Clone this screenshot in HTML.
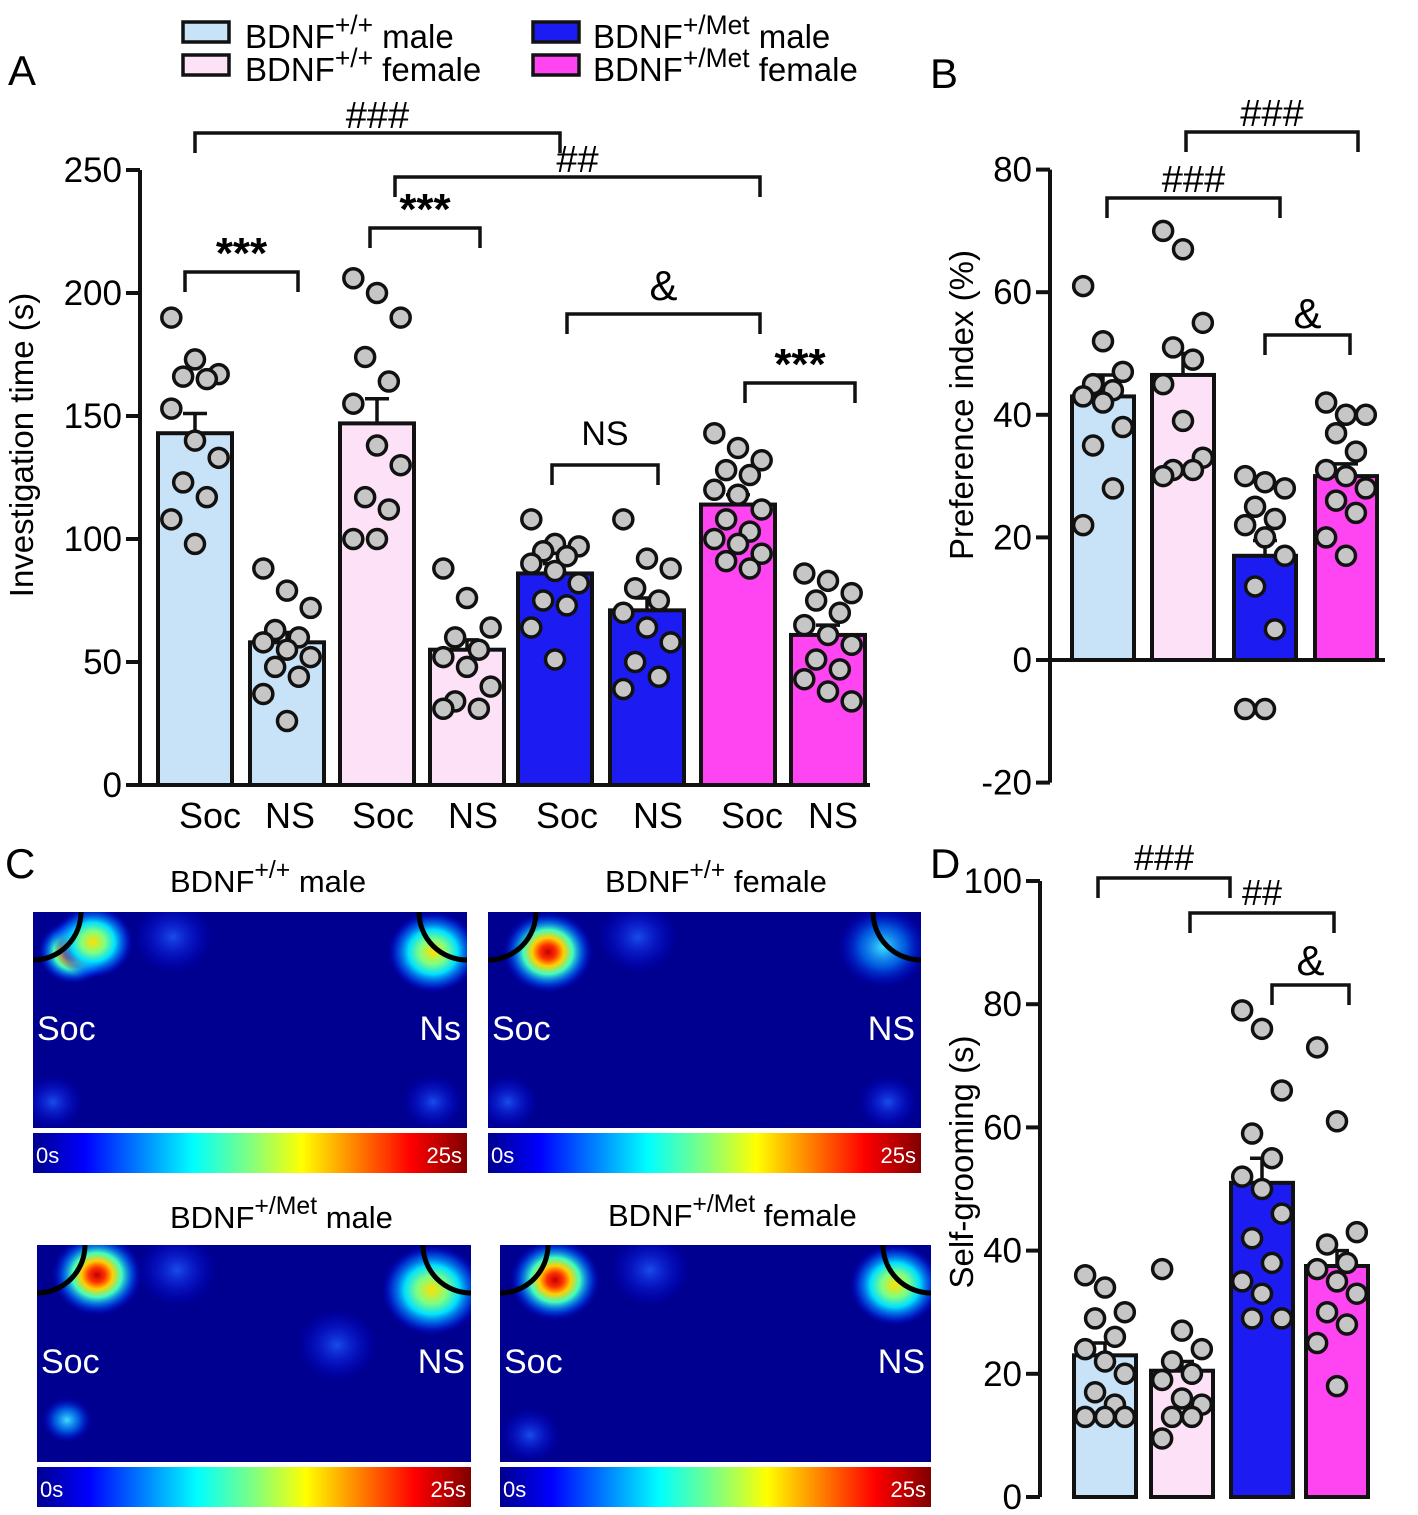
<!DOCTYPE html>
<html><head><meta charset="utf-8"><style>
body{margin:0;background:#fff}
svg{display:block;font-family:"Liberation Sans",Arial,sans-serif}
</style></head><body>
<svg id="fig" width="1418" height="1515" viewBox="0 0 1418 1515">
<defs>
<linearGradient id="cbar" x1="0" x2="1" y1="0" y2="0">
<stop offset="0" stop-color="#00008f"/><stop offset="0.12" stop-color="#0000ff"/><stop offset="0.37" stop-color="#00ffff"/><stop offset="0.5" stop-color="#80ff80"/><stop offset="0.62" stop-color="#ffff00"/><stop offset="0.87" stop-color="#ff0000"/><stop offset="1" stop-color="#800000"/>
</linearGradient>
<radialGradient id="hot"><stop offset="0" stop-color="#c00000"/><stop offset="0.18" stop-color="#ff3000"/><stop offset="0.35" stop-color="#ffd000"/><stop offset="0.55" stop-color="#40ffc0"/><stop offset="0.75" stop-color="#0080ff" stop-opacity="0.7"/><stop offset="1" stop-color="#0000ff" stop-opacity="0"/></radialGradient>
<radialGradient id="warm"><stop offset="0" stop-color="#ffe000"/><stop offset="0.3" stop-color="#80ff80"/><stop offset="0.55" stop-color="#00e0ff"/><stop offset="0.8" stop-color="#0060ff" stop-opacity="0.6"/><stop offset="1" stop-color="#0000ff" stop-opacity="0"/></radialGradient>
<radialGradient id="cool"><stop offset="0" stop-color="#40e0ff"/><stop offset="0.5" stop-color="#0080ff" stop-opacity="0.7"/><stop offset="1" stop-color="#0000ff" stop-opacity="0"/></radialGradient>
<radialGradient id="faint"><stop offset="0" stop-color="#2060ff" stop-opacity="0.8"/><stop offset="1" stop-color="#0000ff" stop-opacity="0"/></radialGradient>
<clipPath id="c1"><rect x="33" y="912" width="434" height="216"/></clipPath>
<clipPath id="c2"><rect x="488" y="912" width="433" height="216"/></clipPath>
<clipPath id="c3"><rect x="37" y="1245" width="434" height="217"/></clipPath>
<clipPath id="c4"><rect x="500" y="1245" width="431" height="217"/></clipPath>
</defs>
<g id="root"></g>
</svg>
<script>
// ---- data ----
const catA = ["Soc","NS","Soc","NS","Soc","NS","Soc","NS"];
const meanA = [143,58,147,55,86,71,114,61];
const semA = [8,4,10,4,4,5,4,4];
const ptsA = [
 [190,173,167,166,165,153,140,133,123,117,108,98],
 [88,79,72,63,60,58,55,52,48,44,37,26],
 [206,200,190,174,164,155,138,130,117,112,100,100],
 [88,76,64,60,55,52,48,40,34,31,31],
 [108,98,97,95,93,90,87,82,75,73,64,51],
 [108,92,88,80,75,70,64,58,50,44,39],
 [143,137,132,128,126,120,118,112,108,103,100,98,94,91,88],
 [86,83,78,75,70,65,61,57,51,47,43,38,34]
];
const ticksA = [0,50,100,150,200,250];
const meanB = [43,46.5,17,30];
const semB = [3.5,3.5,2.5,2];
const ptsB = [
 [61,52,47,45,44,43,42,38,35,28,22],
 [70,67,55,51,49,45,39,33,31,31,30],
 [30,29,28,25,23,22,20,17,12,5,-8,-8],
 [42,40,40,37,34,31,30,28,26,24,20,17]
];
const ticksB = [-20,0,20,40,60,80];
const meanD = [23,20.5,51,37.5];
const semD = [2,1.5,4,2.5];
const ptsD = [
 [36,34,30,29,26,24,22,20,17,15,13,13,13],
 [37,27,24,22,20,19,16,15,13,13,9.5],
 [79,76,66,59,55,52,50,46,42,38,35,33,29,29],
 [73,61,43,41,38,37,35,33,30,28,25,18]
];
const ticksD = [0,20,40,60,80,100];

const NS="http://www.w3.org/2000/svg";
const root=document.getElementById('root');
function mk(tag,attrs,parent){const e=document.createElementNS(NS,tag);for(const k in attrs)e.setAttribute(k,attrs[k]);(parent||root).appendChild(e);return e;}
const fills4=["#c8e2f8","#fde2f7","#1c1cf2","#ff45f2"];
const fillsA=[fills4[0],fills4[0],fills4[1],fills4[1],fills4[2],fills4[2],fills4[3],fills4[3]];

function panel(opt){
 const g=mk('g',{});
 
 
 const y=v=>opt.y0-(v-opt.vmin)*opt.scale;
 opt.means.forEach((m,i)=>{
  const cx=opt.cx[i];
  const b=mk('rect',{x:cx-opt.bw/2,y:Math.min(y(m),y(0)),width:opt.bw,height:Math.abs(y(0)-y(m)),fill:opt.fills[i],stroke:'#111','stroke-width':4},g);
  
  
  const e=opt.means[i]+opt.sems[i];
  mk('line',{x1:cx,x2:cx,y1:y(m),y2:y(e),stroke:'#111','stroke-width':3.5},g);
  mk('line',{x1:cx-12,x2:cx+12,y1:y(e),y2:y(e),stroke:'#111','stroke-width':3.5},g);
  const pts=opt.pts[i];
  pts.forEach((v,j)=>{
   const off=((j*37)%5-2)*opt.bw*0.16;
   const d=mk('circle',{cx:cx+off,cy:y(v),r:9.5,fill:'#c6c6c6',stroke:'#111','stroke-width':3.5},g);
   
   
  });
 });
 mk('line',{x1:opt.ax,x2:opt.ax,y1:y(opt.ticks[0]),y2:y(opt.ticks[opt.ticks.length-1]),stroke:'#111','stroke-width':4},g);
 opt.ticks.forEach(t=>{
  mk('line',{x1:opt.ax-14,x2:opt.ax,y1:y(t),y2:y(t),stroke:'#111','stroke-width':4},g);
  const tx=mk('text',{x:opt.ax-18,y:y(t)+12,'text-anchor':'end','font-size':35},g);tx.textContent=t;
  
  
 });
 mk('line',{x1:opt.ax,x2:opt.xend,y1:y(opt.xline),y2:y(opt.xline),stroke:'#111','stroke-width':4},g);
 const tt=mk('text',{x:0,y:0,'text-anchor':'middle','font-size':33,transform:`translate(${opt.tx},${opt.ty}) rotate(-90)`},g);
 tt.textContent=opt.title;
 
 
 return g;
}
panel({name:'panel-a-chart',y0:785,vmin:0,scale:2.46,cx:[195,287,377,467,555,647,738,828],bw:74,means:meanA,sems:semA,pts:ptsA,fills:fillsA,ax:140,ticks:ticksA,xline:0,xend:870,title:'Investigation time (s)',tx:33,ty:445});
catA.forEach((c,i)=>{const t=mk('text',{x:[210,290,383,473,567,658,752,833][i],y:828,'text-anchor':'middle','font-size':36});t.textContent=c;
 
 });
panel({name:'panel-b-chart',y0:660,vmin:0,scale:6.13,cx:[1103,1183,1265,1346],bw:62,means:meanB,sems:semB,pts:ptsB,fills:fills4,ax:1050,ticks:ticksB,xline:0,xend:1385,title:'Preference index (%)',tx:973,ty:405});
panel({name:'panel-d-chart',y0:1497,vmin:0,scale:6.16,cx:[1105,1182,1262,1337],bw:62,means:meanD,sems:semD,pts:ptsD,fills:fills4,ax:1040,ticks:ticksD,xline:0,xend:1040,title:'Self-grooming (s)',tx:973,ty:1162});

function bracket(x1,x2,y,label,fs,ly){
 mk('path',{d:`M${x1} ${y+20}V${y}H${x2}V${y+20}`,fill:'none',stroke:'#111','stroke-width':3.5});
 const t=mk('text',{x:(x1+x2)/2,y:ly!==undefined?ly:y-8,'text-anchor':'middle','font-size':fs||38,'font-weight':label.startsWith('*')?'bold':'normal'});t.textContent=label;
 
 
}
bracket(195,560,133,'###',38,128);
bracket(395,760,177,'##',38,172);
bracket(185,298,272,'***',44,268);
bracket(370,480,228,'***',44,224);
bracket(567,760,314,'&',42,300);
bracket(552,658,465,'NS',34,445);
bracket(745,855,383,'***',44,379);
bracket(1186,1358,132,'###',38,126);
bracket(1107,1280,198,'###',38,192);
bracket(1265,1350,335,'&',42,328);
bracket(1098,1230,878,'###',36,870);
bracket(1190,1334,913,'##',36,905);
bracket(1272,1349,985,'&',42,975);

[['A',8,85],['B',930,88],['C',5,878],['D',930,878]].forEach(([l,x,y])=>{const t=mk('text',{x,y,'font-size':42});t.textContent=l;
 
 });

function lab(x,y,sup,rest,fs,parent){
 const t=mk('text',{x,y,'font-size':fs||32},parent);
 t.innerHTML=`BDNF<tspan dy="-14" font-size="${(fs||32)*0.8}">${sup}</tspan><tspan dy="14"> ${rest}</tspan>`;
 return t;
}
[[183,22,fills4[0],'+/+','male',245,48],[183,55,fills4[1],'+/+','female',245,81],[533,22,fills4[2],'+/Met','male',593,48],[533,55,fills4[3],'+/Met','female',593,81]].forEach(([x,y,f,s,r,tx,ty])=>{
 const g=mk('g',{});
 
 
 mk('rect',{x,y,width:46,height:20,fill:f,stroke:'#111','stroke-width':3.5},g);
 lab(tx,ty,s,r,33,g);
});

function heat(x,y,w,h,clip,title,tx,ty,sup,rest,left,right,blobs){
 const g=mk('g',{});
 
 
 lab(tx,ty,sup,rest,31,g);
 const hg=mk('g',{'clip-path':`url(#${clip})`},g);
 mk('rect',{x,y,width:w,height:h,fill:'#000090'},hg);
 blobs.forEach(([bx,by,r,gr])=>mk('ellipse',{cx:x+bx,cy:y+by,rx:r,ry:r*0.9,fill:`url(#${gr})`},hg));
 mk('circle',{cx:x,cy:y,r:48,fill:'none',stroke:'#000','stroke-width':5},hg);
 mk('circle',{cx:x+w,cy:y,r:48,fill:'none',stroke:'#000','stroke-width':5},hg);
 const a=mk('text',{x:x+4,y:y+128,'font-size':34,fill:'#fff'},g);a.textContent=left;
 const b=mk('text',{x:x+w-6,y:y+128,'font-size':34,fill:'#fff','text-anchor':'end'},g);b.textContent=right;
 mk('rect',{x,y:y+h+5,width:w,height:40,fill:'url(#cbar)'},g);
 const c0=mk('text',{x:x+3,y:y+h+35,'font-size':22,fill:'#fff'},g);c0.textContent='0s';
 const c1=mk('text',{x:x+w-5,y:y+h+35,'font-size':22,fill:'#fff','text-anchor':'end'},g);c1.textContent='25s';
}
heat(33,912,434,216,'c1','',170,892,'+/+','male','Soc','Ns',[[40,40,35,'hot'],[60,30,40,'warm'],[400,40,45,'warm'],[140,25,40,'faint'],[20,190,30,'faint'],[400,190,30,'faint']]);
heat(488,912,433,216,'c2','',605,892,'+/+','female','Soc','NS',[[60,40,45,'hot'],[395,35,45,'cool'],[150,25,40,'faint'],[400,190,30,'faint'],[20,190,30,'faint']]);
heat(37,1245,434,217,'c3','',170,1228,'+/Met','male','Soc','NS',[[60,30,45,'hot'],[395,45,50,'warm'],[30,175,25,'cool'],[140,25,40,'faint'],[300,100,40,'faint']]);
heat(500,1245,431,217,'c4','',608,1226,'+/Met','female','Soc','NS',[[55,35,45,'hot'],[395,40,45,'warm'],[150,25,40,'faint'],[30,190,30,'faint']]);
</script>
</body></html>
